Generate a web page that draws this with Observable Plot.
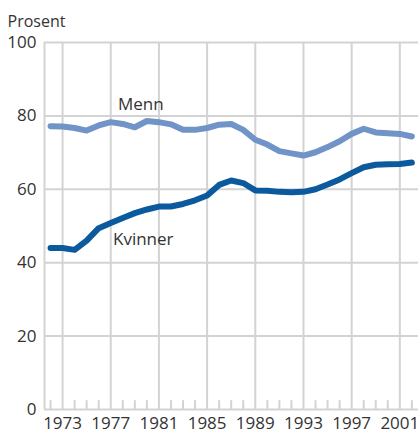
<!DOCTYPE html>
<html>
<head>
<meta charset="utf-8">
<script src="https://cdn.jsdelivr.net/npm/d3@7"></script>
<script src="https://cdn.jsdelivr.net/npm/@observablehq/plot@0.6"></script>
<style>
  html, body { margin: 0; padding: 0; background: #fff; }
  #chart { position: relative; width: 418px; height: 434px; }
  #chart svg { display: block; }
</style>
</head>
<body>
<div id="chart"></div>
<script>
const years = d3.range(1972, 2003);
const menn = [77.2, 77.1, 76.7, 76.0, 77.4, 78.3, 77.8, 76.9, 78.6, 78.3, 77.7, 76.2, 76.2, 76.7, 77.6, 77.8, 76.2, 73.5, 72.2, 70.4, 69.8, 69.2, 70.1, 71.5, 73.1, 75.1, 76.5, 75.5, 75.3, 75.1, 74.4];
const kvinner = [44.0, 44.0, 43.5, 46.0, 49.4, 50.8, 52.2, 53.5, 54.5, 55.3, 55.3, 56.0, 57.0, 58.3, 61.2, 62.4, 61.7, 59.7, 59.6, 59.3, 59.2, 59.3, 60.0, 61.3, 62.7, 64.4, 66.0, 66.7, 66.8, 66.9, 67.3];
const xTicks = [1973, 1977, 1981, 1985, 1989, 1993, 1997, 2001];
const yTicks = [0, 20, 40, 60, 80, 100];
const seriesLabels = [
  {name: "Menn", year: 1979.5, value: 83.1},
  {name: "Kvinner", year: 1979.7, value: 46.3}
];

const mennData = years.map((y, i) => ({year: y, value: menn[i]}));
const kvData = years.map((y, i) => ({year: y, value: kvinner[i]}));
const minorYears = years.filter(y => !xTicks.includes(y));

const grid = "#d3d3d3";
const font = "'Open Sans', sans-serif";

const plot = Plot.plot({
  width: 418,
  height: 434,
  marginTop: 42,
  marginLeft: 44,
  marginRight: 0,
  marginBottom: 25,
  style: {fontFamily: font, color: "#333", background: "#fff", overflow: "visible"},
  x: {domain: [1971.5, 2002.55]},
  y: {domain: [0, 100]},
  marks: [
    Plot.ruleY(yTicks, {stroke: grid, strokeWidth: 2}),
    Plot.ruleX(xTicks, {y1: 0, y2: 100, stroke: grid, strokeWidth: 2}),
    Plot.ruleX([1971.5], {y1: 0, y2: 100, stroke: grid, strokeWidth: 2}),
    Plot.ruleX(minorYears, {y1: 0, y2: 2.4, stroke: grid, strokeWidth: 2}),
    Plot.axisX({ticks: xTicks, tickSize: 0, tickPadding: 7, tickFormat: d => String(d), fontSize: 17, label: null, fill: "#333"}),
    Plot.axisY({ticks: yTicks, tickSize: 0, tickPadding: 8, fontSize: 17, label: null, fill: "#333"}),
    Plot.line(mennData, {x: "year", y: "value", stroke: "#7093c8", strokeWidth: 6, strokeLinejoin: "round", strokeLinecap: "round"}),
    Plot.line(kvData, {x: "year", y: "value", stroke: "#0b5a9d", strokeWidth: 6, strokeLinejoin: "round", strokeLinecap: "round"}),
    Plot.text(seriesLabels, {x: "year", y: "value", text: "name", fontSize: 17, fill: "#333"}),
    Plot.text(["Prosent"], {frameAnchor: "top-left", dx: -37, dy: -27, text: d => d, fontSize: 16, fill: "#333", textAnchor: "start"})
  ]
});
document.getElementById("chart").appendChild(plot);
</script>
</body>
</html>
